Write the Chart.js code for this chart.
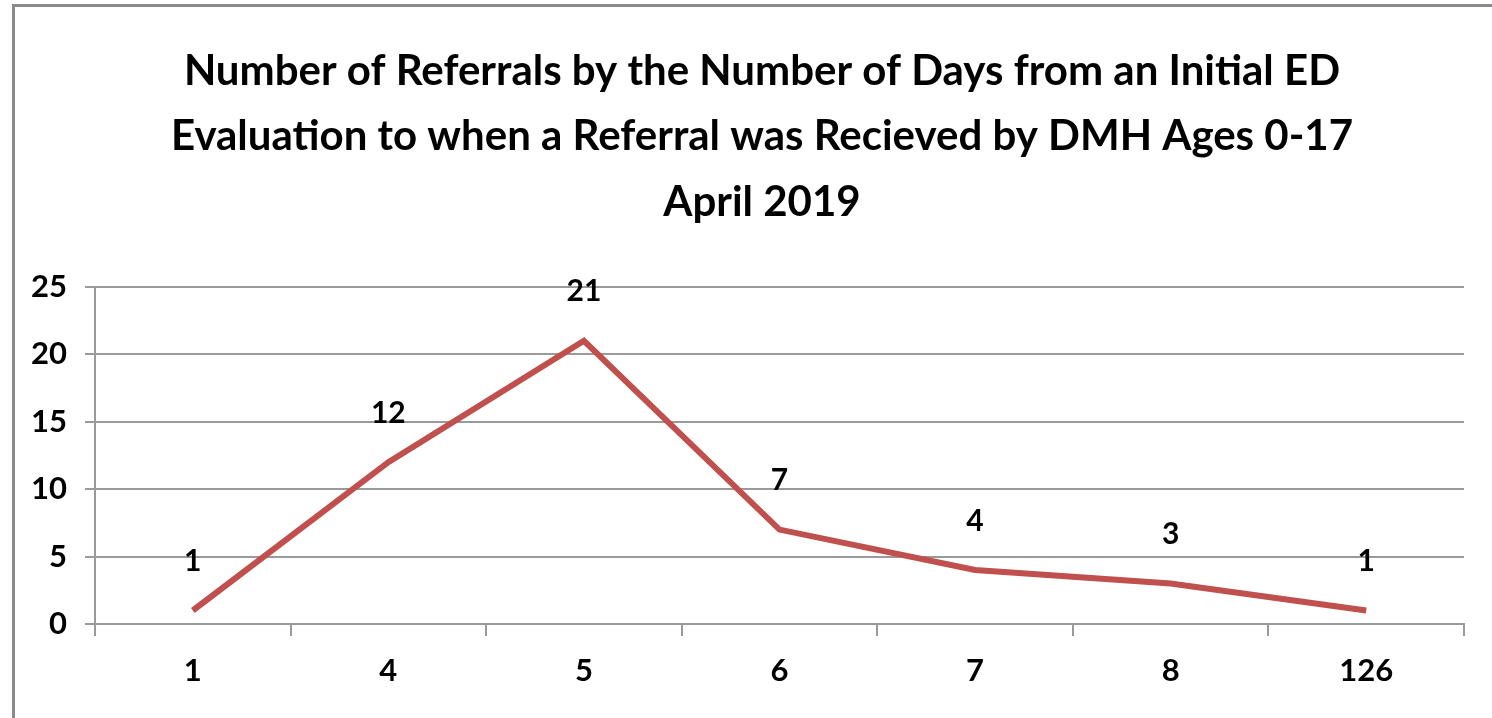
<!DOCTYPE html>
<html>
<head>
<meta charset="utf-8">
<script src="https://cdn.jsdelivr.net/npm/chart.js@4.4.1/dist/chart.umd.min.js"></script>
<style>
  html, body { margin: 0; padding: 0; background: #fff; overflow: hidden; }
  #wrap { position: absolute; left: 0; top: 0; width: 1492px; height: 718px; }
  #frame { position: absolute; left: 12px; top: 4px; width: 1600px; height: 800px;
           border-left: 3px solid #8a8a8a; border-top: 3px solid #8a8a8a; }
</style>
</head>
<body>
<div id="frame"></div>
<div id="wrap"><canvas id="chart"></canvas></div>
<script>
const days = ['1', '4', '5', '6', '7', '8', '126'];
const referrals = [1, 12, 21, 7, 4, 3, 1];
const titleLines = [
    'Number of Referrals by the Number of Days from an Initial ED',
    'Evaluation to when a Referral was Recieved by DMH Ages 0-17',
    'April 2019'
];

const FONT = 'Lato, "Open Sans", sans-serif';

// value labels above each point
const pointLabels = {
    id: 'pointLabels',
    afterDatasetsDraw(chart) {
        const ctx = chart.ctx;
        const meta = chart.getDatasetMeta(0);
        ctx.save();
        ctx.font = 'bold 30px ' + FONT;
        ctx.fillStyle = '#000';
        ctx.textAlign = 'center';
        ctx.textBaseline = 'middle';
        meta.data.forEach((pt, i) => {
            ctx.fillText(referrals[i], pt.x, pt.y - 49);
        });
        ctx.restore();
    }
};

// title sits a little right of the chart box centre in the original
const titleShift = {
    id: 'titleShift',
    afterLayout(chart) {
        if (chart.titleBlock) chart.titleBlock.left = 60;
    }
};

new Chart(document.getElementById('chart'), {
    type: 'line',
    data: {
        labels: days,
        datasets: [{
            data: referrals,
            borderColor: '#C0504D',
            borderWidth: 6,
            pointRadius: 0,
            pointHoverRadius: 0,
            tension: 0,
            fill: false
        }]
    },
    options: {
        responsive: true,
        maintainAspectRatio: false,
        animation: false,
        layout: { padding: { left: 15, right: 28, top: 0, bottom: 0 } },
        scales: {
            x: {
                offset: true,
                grid: {
                    offset: true,
                    drawOnChartArea: false,
                    tickLength: 12,
                    color: '#9a9a9a',
                    lineWidth: 2
                },
                border: { color: '#9a9a9a', width: 2 },
                ticks: {
                    color: '#000',
                    padding: 16,
                    font: { family: FONT, size: 31, weight: 'bold' }
                },
                afterFit(scale) { scale.height = 718 - 624; }
            },
            y: {
                min: 0,
                max: 25,
                ticks: {
                    stepSize: 5,
                    color: '#000',
                    padding: 18,
                    font: { family: FONT, size: 31, weight: 'bold' }
                },
                grid: { color: '#9a9a9a', lineWidth: 2, tickLength: 10 },
                border: { color: '#9a9a9a', width: 2 },
                afterFit(scale) { scale.width = 95 - 15; }
            }
        },
        plugins: {
            legend: { display: false },
            tooltip: { enabled: false },
            title: {
                display: true,
                text: titleLines,
                color: '#000',
                font: { family: FONT, size: 42, weight: 'bold', lineHeight: 1.57 },
                padding: { top: 38, bottom: 51 }
            }
        }
    },
    plugins: [pointLabels, titleShift]
});
</script>
</body>
</html>
